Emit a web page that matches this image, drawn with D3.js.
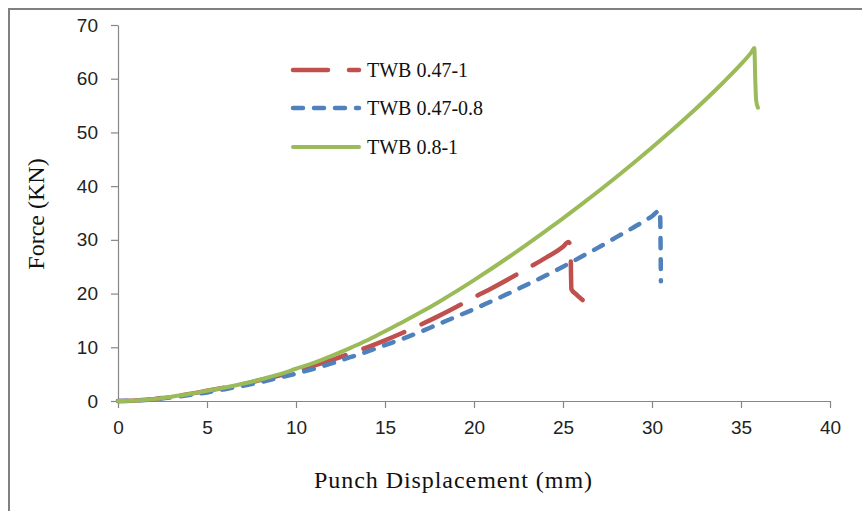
<!DOCTYPE html>
<html>
<head>
<meta charset="utf-8">
<script src="https://cdn.jsdelivr.net/npm/d3@7"></script>
<style>
html,body{margin:0;padding:0;background:#fff;}
svg{display:block;}
</style>
</head>
<body>
<svg id="chart" width="862" height="511"></svg>
<script>
// ---- data ----
const seriesNames = ["TWB 0.47-1", "TWB 0.47-0.8", "TWB 0.8-1"];
const xTicks = [0, 5, 10, 15, 20, 25, 30, 35, 40];
const yTicks = [0, 10, 20, 30, 40, 50, 60, 70];
const xTitle = "Punch Displacement (mm)";
const yTitle = "Force (KN)";

// TWB 0.47-1 : [displacement, force]
const twb047_1 = [[0,0],[1,0.1],[2,0.35],[3,0.8],[4,1.3],[5,1.9],[6,2.5],[7,3.1],[8,3.9],[9,4.7],[10,5.6],
  [11,6.6],[12,7.6],[13,8.8],[14,10.0],[15,11.3],[16,12.7],[17,14.2],[18,15.8],[19,17.5],[20,19.3],
  [21,21.0],[22,22.8],[23,24.7],[24,26.6],[25,28.7],[25.3,29.6],[25.42,28.9],[25.47,20.8],[25.7,20.0],[26.1,18.8]];
// TWB 0.47-0.8
const twb047_08 = [[0,0],[1,0.1],[2,0.3],[3,0.7],[4,1.1],[5,1.6],[6,2.2],[7,2.8],[8,3.5],[9,4.3],[10,5.1],
  [11,6.0],[12,7.0],[13,8.1],[14,9.2],[15,10.4],[16,11.6],[17,12.9],[18,14.3],[19,15.7],[20,17.1],
  [21,18.6],[22,20.1],[23,21.7],[24,23.3],[25,25.0],[26,26.8],[27,28.6],[28,30.5],[29,32.4],[30,34.4],
  [30.45,35.5],[30.5,22.3]];
// TWB 0.8-1
const twb08_1 = [[0,0],[1,0.1],[2,0.35],[3,0.8],[4,1.3],[5,1.9],[6,2.5],[7,3.2],[8,4.0],[9,4.9],[10,6.0],
  [11,7.1],[12,8.4],[13,9.8],[14,11.3],[15,13.0],[16,14.7],[17,16.5],[18,18.4],[19,20.4],[20,22.5],
  [22,26.9],[24,31.6],[25,34.0],[26,36.5],[28,41.7],[30,47.2],[32,53.0],[34,59.3],[35,62.7],[35.6,65.0],
  [35.75,65.7],[35.8,60.0],[35.85,56.0],[35.95,54.6]];

const seriesData = [twb047_1, twb047_08, twb08_1];
const seriesColors = ["#C0504D", "#4F81BD", "#9BBB59"];
const seriesWidths = [4.5, 4.5, 4];
const seriesDash = ["44,19", "10,11", null];
const legendDash = ["35,21", "10,11", null];

// ---- drawing ----
const svg = d3.select("#chart");
const x = d3.scaleLinear().domain([0, 40]).range([118, 830]);
const y = d3.scaleLinear().domain([0, 70]).range([401, 25]);
const axisColor = "#868686";

// outer frame (only top/left visible)
svg.append("rect").attr("x", 9).attr("y", 9).attr("width", 900).attr("height", 600)
  .attr("fill", "none").attr("stroke", "#808080").attr("stroke-width", 2);

// x axis
const gx = svg.append("g").attr("transform", `translate(0,${y(0)})`)
  .call(d3.axisBottom(x).tickValues(xTicks).tickSize(7).tickPadding(13).tickSizeOuter(0));
// y axis
const gy = svg.append("g").attr("transform", `translate(${x(0)},0)`)
  .call(d3.axisLeft(y).tickValues(yTicks).tickSize(7).tickPadding(13).tickSizeOuter(0));
[gx, gy].forEach(g => {
  g.select(".domain").attr("stroke", axisColor).attr("stroke-width", 1.2);
  g.selectAll(".tick line").attr("stroke", axisColor).attr("stroke-width", 1.2);
  g.selectAll(".tick text").attr("fill", "#222").attr("font-family", "'Liberation Sans', Arial, sans-serif")
    .attr("font-size", 19);
});

// lines
const line = d3.line().x(d => x(d[0])).y(d => y(d[1])).curve(d3.curveMonotoneX);
seriesData.forEach((data, i) => {
  svg.append("path").datum(data).attr("d", line)
    .attr("fill", "none").attr("stroke", seriesColors[i]).attr("stroke-width", seriesWidths[i])
    .attr("stroke-linecap", "round").attr("stroke-linejoin", "round")
    .attr("stroke-dasharray", seriesDash[i]);
});

// legend
const legendY = [70, 108, 147];
seriesNames.forEach((name, i) => {
  svg.append("line").attr("x1", 293).attr("x2", 359).attr("y1", legendY[i]).attr("y2", legendY[i])
    .attr("stroke", seriesColors[i]).attr("stroke-width", seriesWidths[i])
    .attr("stroke-linecap", "round").attr("stroke-dasharray", legendDash[i]);
  svg.append("text").attr("x", 367).attr("y", legendY[i] + 7).text(name)
    .attr("font-family", "'Liberation Serif', 'Times New Roman', serif").attr("font-size", 20).attr("fill", "#111");
});

// axis titles
svg.append("text").attr("x", 453).attr("y", 488).attr("text-anchor", "middle").text(xTitle)
  .attr("textLength", 278).attr("lengthAdjust", "spacing")
  .attr("font-family", "'Liberation Serif', 'Times New Roman', serif").attr("font-size", 24).attr("fill", "#111");
svg.append("text").attr("transform", "translate(44,214) rotate(-90)").attr("text-anchor", "middle").text(yTitle)
  .attr("font-family", "'Liberation Serif', 'Times New Roman', serif").attr("font-size", 24).attr("fill", "#111");
</script>
</body>
</html>
